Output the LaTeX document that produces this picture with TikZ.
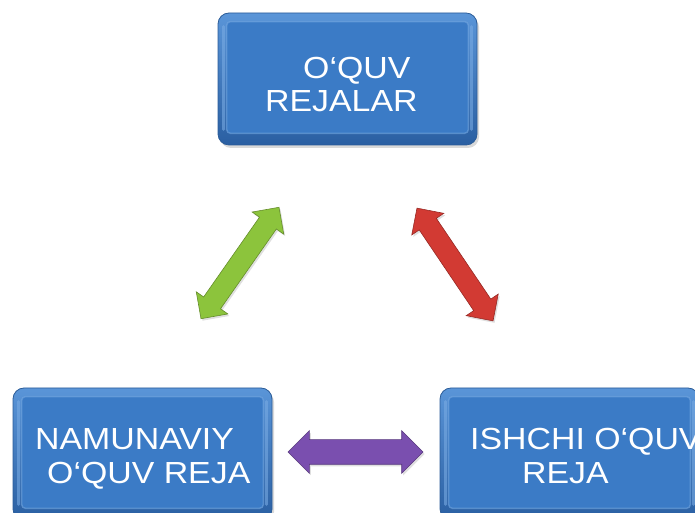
\documentclass[tikz,border=0pt]{standalone}
\usepackage{fontspec}
\setmainfont{Liberation Sans}[FakeStretch=1.11]
\usetikzlibrary{shapes.arrows,shadows}
\definecolor{boxtop}{HTML}{5A95D8}
\definecolor{boxbot}{HTML}{2A5FA2}
\definecolor{boxmid}{HTML}{3B7BC6}
\definecolor{boxedge}{HTML}{2B5C98}
\definecolor{boxhi}{HTML}{78AAE2}
\definecolor{arrgreen}{HTML}{8CC43C}
\definecolor{arrred}{HTML}{D23A33}
\definecolor{arrpurple}{HTML}{7A4FAF}
\begin{document}
\begin{tikzpicture}[x=1pt,y=1pt,
  boxstyle/.style={rectangle, rounded corners=11pt, minimum width=259pt, minimum height=132pt,
    top color=boxtop, bottom color=boxbot, draw=boxedge, line width=0.8pt,
    drop shadow={shadow xshift=2pt, shadow yshift=-3pt, opacity=0.3}},
  boxinner/.style={fill=boxmid, draw=boxhi, draw opacity=0.55, line width=1.4pt, rounded corners=4pt},
  boxside/.style={draw=boxhi, line width=3pt, opacity=0.6, line cap=round},
  lbl/.style={anchor=base west, text=white, inner sep=0pt, font=\fontsize{30.5}{36}\selectfont},
  darrow/.style={double arrow, draw=#1!72!black, fill=#1, line width=0.6pt,
    minimum width=0pt, double arrow tip angle=90,
    drop shadow={shadow xshift=1.5pt, shadow yshift=-2pt, opacity=0.25}}
]
\useasboundingbox (0,0) rectangle (695,513);
\clip (0,0) rectangle (695,513);

% boxes
\node[boxstyle] (top) at (347.5,434) {};
\node[boxstyle] (nl) at (142.5,59) {};
\node[boxstyle] (nr) at (569.5,59) {};
\foreach \b in {top,nl,nr}{
  \path[boxinner] ([xshift=9pt,yshift=12pt]\b.south west) rectangle ([xshift=-9pt,yshift=-9pt]\b.north east);
  \draw[boxside] ([xshift=6pt,yshift=16pt]\b.south west) -- ([xshift=6pt,yshift=-14pt]\b.north west);
  \draw[boxside] ([xshift=-6pt,yshift=16pt]\b.south east) -- ([xshift=-6pt,yshift=-14pt]\b.north east);
}

% labels
\node[lbl] (t1) at (303,434) {O‘QUV};
\node[lbl] (t2) at (265,401) {REJALAR};
\node[lbl] (l1) at (35,63) {NAMUNAVIY};
\node[lbl] (l2) at (47,29) {O‘QUV REJA};
\node[lbl] (r1) at (470,63) {ISHCHI O‘QUV};
\node[lbl] (r2) at (522,29) {REJA};

% double arrows
\node[darrow=arrgreen, rotate=55, minimum height=136pt, inner sep=10pt,
  double arrow head extend=9pt] (ga) at (240,250) {};
\node[darrow=arrred, rotate=-56, minimum height=136pt, inner sep=10pt,
  double arrow head extend=9pt] (ra) at (455,248.5) {};
\node[darrow=arrpurple, minimum height=135pt, inner sep=12pt,
  double arrow head extend=9pt] (pa) at (355.5,61) {};
\end{tikzpicture}
\end{document}
